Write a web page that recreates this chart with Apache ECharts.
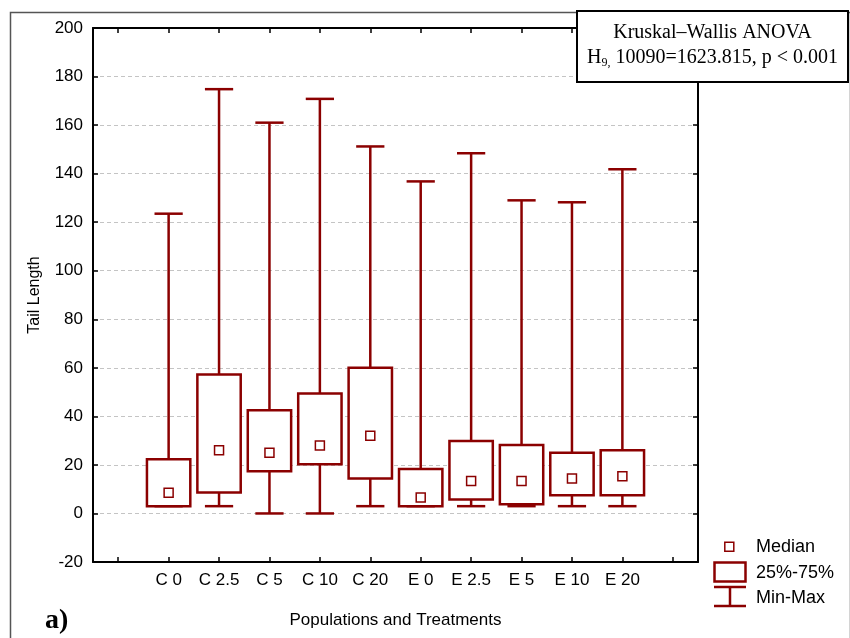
<!DOCTYPE html>
<html>
<head>
<meta charset="utf-8">
<script src="https://cdn.jsdelivr.net/npm/echarts@6/dist/echarts.min.js"></script>
<style>
html,body{margin:0;padding:0;background:#fff;}
#chart{width:850px;height:638px;}
</style>
</head>
<body>
<div id="chart"></div>
<script>
// ---- data ----
var categories = ['C 0', 'C 2.5', 'C 5', 'C 10', 'C 20', 'E 0', 'E 2.5', 'E 5', 'E 10', 'E 20'];
var minValues    = [3, 3, 0, 0, 3, 3, 3, 3, 3, 3];
var q1Values     = [3, 8.6, 17.4, 20.3, 14.4, 3, 5.8, 3.8, 7.5, 7.5];
var medianValues = [8.5, 26, 25, 28, 32, 6.6, 13.4, 13.4, 14.4, 15.3];
var q3Values     = [22.3, 57.2, 42.5, 49.4, 60, 18.3, 29.8, 28.2, 25, 26];
var maxValues    = [123.5, 174.8, 161, 170.8, 151.2, 136.8, 148.4, 129, 128.2, 141.8];
var yTicks = {min: -20, max: 200, interval: 20};
var xAxisTitle = 'Populations and Treatments';
var yAxisTitle = 'Tail Length';
var statLine1 = 'Kruskal\u2013Wallis ANOVA';
var statLine2a = 'H';
var statLine2sub = '9,';
var statLine2b = ' 10090=1623.815, p < 0.001';
var legendLabels = ['Median', '25%-75%', 'Min-Max'];
var panelLabel = 'a)';

// ---- build ----
var RED = '#8B0000';
var axisCats = [''].concat(categories).concat([' ']);
var boxData = categories.map(function (c, i) {
  return [i + 1, minValues[i], q1Values[i], medianValues[i], q3Values[i], maxValues[i]];
});

function renderBox(params, api) {
  var x = api.value(0);
  var pMin = api.coord([x, api.value(1)]);
  var pQ1 = api.coord([x, api.value(2)]);
  var pMed = api.coord([x, api.value(3)]);
  var pQ3 = api.coord([x, api.value(4)]);
  var pMax = api.coord([x, api.value(5)]);
  var band = api.size([1, 0])[0];
  var bw = band * 0.86;
  var cw = band * 0.56;
  var cx = pMed[0];
  var ls = {stroke: RED, lineWidth: 2.5};
  return {
    type: 'group',
    children: [
      {type: 'line', shape: {x1: cx, y1: pQ3[1], x2: cx, y2: pMax[1]}, style: ls},
      {type: 'line', shape: {x1: cx, y1: pMin[1], x2: cx, y2: pQ1[1]}, style: ls},
      {type: 'line', shape: {x1: cx - cw / 2, y1: pMax[1], x2: cx + cw / 2, y2: pMax[1]}, style: ls},
      {type: 'line', shape: {x1: cx - cw / 2, y1: pMin[1], x2: cx + cw / 2, y2: pMin[1]}, style: ls},
      {type: 'rect', shape: {x: cx - bw / 2, y: pQ3[1], width: bw, height: pQ1[1] - pQ3[1]},
        style: {fill: '#fff', stroke: RED, lineWidth: 2.5}},
      {type: 'rect', shape: {x: cx - 4.5, y: pMed[1] - 4.5, width: 9, height: 9},
        style: {fill: 'none', stroke: RED, lineWidth: 1.5}}
    ]
  };
}

var SANS = '"Liberation Sans", Arial, sans-serif';
var SERIF = '"Liberation Serif", "Times New Roman", serif';
var axisLineStyle = {color: '#000', width: 2};
var tickStyle = {show: true, inside: true, length: 5, lineStyle: {color: '#000', width: 1.5}};

var chart = echarts.init(document.getElementById('chart'), null, {renderer: 'canvas'});
chart.setOption({
  animation: false,
  backgroundColor: '#fff',
  grid: {left: 93, right: 152, top: 28, bottom: 76, containLabel: false},
  xAxis: [{
    type: 'category',
    data: axisCats,
    position: 'bottom',
    boundaryGap: true,
    axisLine: {show: true, onZero: false, lineStyle: axisLineStyle},
    axisTick: {show: true, inside: true, length: 5, alignWithLabel: true, interval: 0, lineStyle: {color: '#000', width: 1.5}},
    axisLabel: {interval: 0, color: '#000', fontFamily: SANS, fontSize: 17, margin: 10},
    splitLine: {show: false},
    name: xAxisTitle,
    nameLocation: 'middle',
    nameGap: 50,
    nameTextStyle: {color: '#000', fontFamily: SANS, fontSize: 17}
  }, {
    type: 'category',
    data: axisCats,
    position: 'top',
    boundaryGap: true,
    axisLine: {show: true, onZero: false, lineStyle: axisLineStyle},
    axisTick: {show: true, inside: true, length: 5, alignWithLabel: true, interval: 0, lineStyle: {color: '#000', width: 1.5}},
    axisLabel: {show: false},
    splitLine: {show: false}
  }],
  yAxis: [{
    type: 'value',
    min: yTicks.min, max: yTicks.max, interval: yTicks.interval,
    position: 'left',
    axisLine: {show: true, onZero: false, lineStyle: axisLineStyle},
    axisTick: tickStyle,
    axisLabel: {color: '#000', fontFamily: SANS, fontSize: 17, margin: 10},
    splitLine: {show: true, lineStyle: {color: '#c4c4c4', type: [4, 3], width: 1}},
    name: yAxisTitle,
    nameLocation: 'middle',
    nameGap: 50,
    nameTextStyle: {color: '#000', fontFamily: SANS, fontSize: 16}
  }, {
    type: 'value',
    min: yTicks.min, max: yTicks.max, interval: yTicks.interval,
    position: 'right',
    axisLine: {show: true, onZero: false, lineStyle: axisLineStyle},
    axisTick: tickStyle,
    axisLabel: {show: false},
    splitLine: {show: false}
  }],
  series: [{
    type: 'custom',
    xAxisIndex: 0,
    yAxisIndex: 0,
    renderItem: renderBox,
    encode: {x: 0, y: [1, 2, 3, 4, 5]},
    data: boxData,
    clip: false,
    z: 5
  }],
  graphic: [
    {type: 'rect', left: 8, top: 10, z: 0, silent: true,
      shape: {x: 0, y: 0, width: 840, height: 640},
      style: {fill: 'none', stroke: '#555', lineWidth: 1.5}},
    {type: 'rect', z: 100, zlevel: 1, shape: {x: 577, y: 11, width: 271, height: 71},
      style: {fill: '#fff', stroke: '#000', lineWidth: 2}},
    {type: 'text', z: 101, zlevel: 1, x: 712.5, y: 33,
      style: {text: statLine1, fill: '#000', font: '20px ' + SERIF, textAlign: 'center', textVerticalAlign: 'middle'}},
    {type: 'text', z: 101, zlevel: 1, x: 712.5, y: 58,
      style: {
        text: '{m|' + statLine2a + '}{s|' + statLine2sub + '}{m|' + statLine2b + '}',
        textAlign: 'center', textVerticalAlign: 'middle',
        rich: {
          m: {fontFamily: SERIF, fontSize: 20, lineHeight: 22, fill: '#000', color: '#000'},
          s: {fontFamily: SERIF, fontSize: 12, lineHeight: 13, verticalAlign: 'bottom', fill: '#000', color: '#000'}
        }
      }},
    // legend
    {type: 'rect', z: 100, shape: {x: 724.8, y: 542.2, width: 9, height: 9},
      style: {fill: 'none', stroke: RED, lineWidth: 1.5}},
    {type: 'text', z: 100, x: 756, y: 547,
      style: {text: legendLabels[0], fill: '#000', font: '18px ' + SANS, textVerticalAlign: 'middle'}},
    {type: 'rect', z: 100, shape: {x: 714.5, y: 562.5, width: 31, height: 19},
      style: {fill: 'none', stroke: RED, lineWidth: 2.5}},
    {type: 'text', z: 100, x: 756, y: 573,
      style: {text: legendLabels[1], fill: '#000', font: '18px ' + SANS, textVerticalAlign: 'middle'}},
    {type: 'line', z: 100, shape: {x1: 714, y1: 587, x2: 746, y2: 587}, style: {stroke: RED, lineWidth: 2.5}},
    {type: 'line', z: 100, shape: {x1: 730, y1: 587, x2: 730, y2: 606}, style: {stroke: RED, lineWidth: 2.5}},
    {type: 'line', z: 100, shape: {x1: 714, y1: 606, x2: 746, y2: 606}, style: {stroke: RED, lineWidth: 2.5}},
    {type: 'text', z: 100, x: 756, y: 598,
      style: {text: legendLabels[2], fill: '#000', font: '18px ' + SANS, textVerticalAlign: 'middle'}},
    // panel label
    {type: 'text', z: 100, x: 45, y: 621,
      style: {text: panelLabel, fill: '#000', font: 'bold 28px ' + SERIF, textVerticalAlign: 'middle'}}
  ]
});
</script>
</body>
</html>
